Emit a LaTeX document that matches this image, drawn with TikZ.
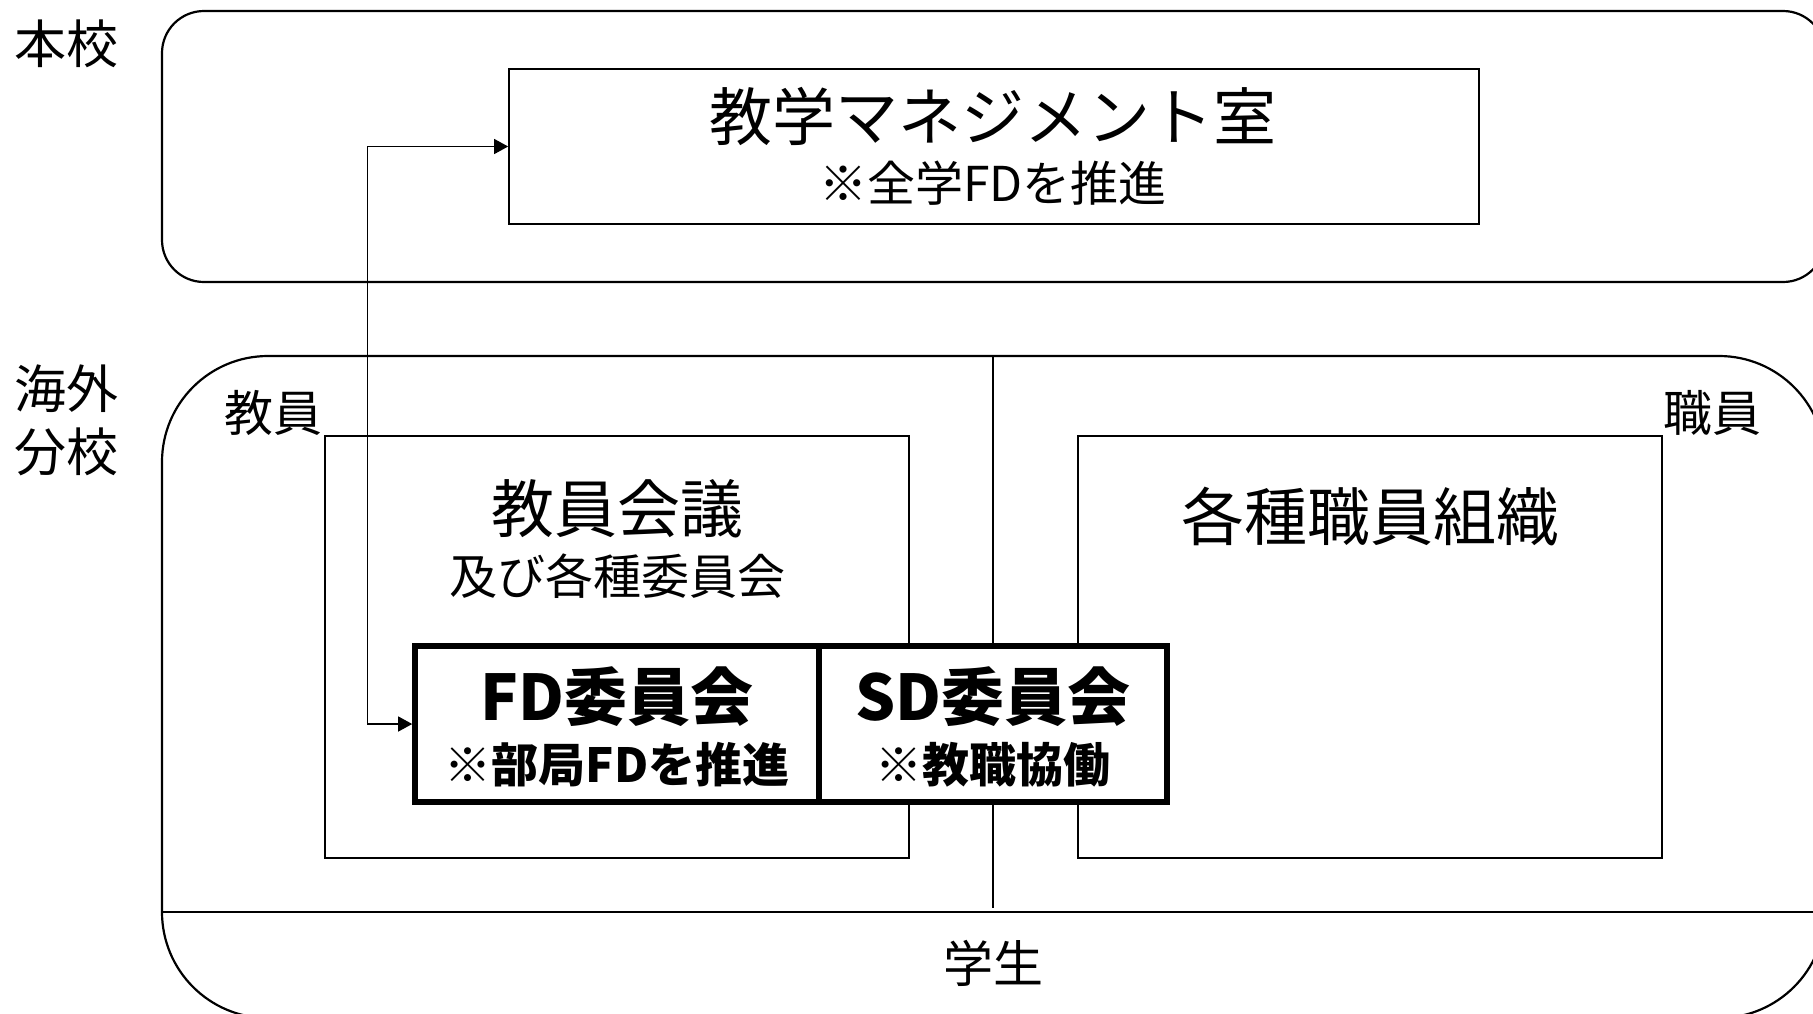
\documentclass[tikz,border=0pt]{standalone}
\usepackage{fontspec}
\setmainfont{Noto Sans CJK JP}
\usetikzlibrary{arrows.meta}
\tikzset{
  outerline/.style={draw=black, line width=1.1pt},
  innerbox/.style={draw=black, line width=0.85pt, fill=white, inner sep=0pt},
  thickbox/.style={draw=black, line width=2.8pt, fill=white, inner sep=0pt},
  conn/.style={draw=black, line width=0.65pt, {Triangle[length=7pt,width=7.5pt]}-{Triangle[length=7pt,width=7.5pt]}},
  txt/.style={inner sep=0pt, anchor=center},
  bigtxt/.style={txt, font=\fontsize{31.5}{36}\selectfont},
  midtxt/.style={txt, font=\fontsize{24}{28}\selectfont},
  lbltxt/.style={txt, font=\fontsize{25}{30}\selectfont},
  boldbig/.style={txt, font=\fontsize{31.5}{36}\selectfont\bfseries},
  boldmid/.style={txt, font=\fontsize{23.5}{28}\selectfont\bfseries},
}
\begin{document}
\begin{tikzpicture}[x=0.5pt,y=-0.5pt]
\useasboundingbox (0,0) rectangle (1813,1013);
\fill[white] (0,0) rectangle (1813,1013);
\clip (0,0) rectangle (1813,1013);

% outer regions
\draw[outerline, rounded corners=21pt] (162,11) rectangle (1825,282);
\draw[outerline, rounded corners=53pt] (162,356) rectangle (1825,1018);
\draw[line width=0.65pt] (993,356) -- (993,908);
\draw[outerline] (162,912) -- (1825,912);

% side labels
\node[lbltxt, font=\fontsize{26}{30}\selectfont] (honko) at (66,44) {本校};
\node[lbltxt, font=\fontsize{26}{30}\selectfont] (kaigai1) at (66,389) {海外};
\node[lbltxt, font=\fontsize{26}{30}\selectfont] (kaigai2) at (66,452) {分校};
\node[lbltxt, font=\fontsize{24.5}{30}\selectfont] (kyoin) at (273,413) {教員};
\node[lbltxt, font=\fontsize{24.5}{30}\selectfont] (shokuin) at (1712,413) {職員};
\node[lbltxt] (gakusei) at (993,963) {学生};

% management room
\node[innerbox, minimum width=485pt, minimum height=77.5pt] (mgmt) at (994,146.5) {};
\node[bigtxt] (mgmtt) at (993,116) {教学マネジメント室};
\node[midtxt] (mgmts) at (993,183) {※全学FDを推進};

% faculty / staff boxes
\node[innerbox, minimum width=292pt, minimum height=211pt] (fac) at (617,647) {};
\node[innerbox, minimum width=292pt, minimum height=211pt] (staff) at (1370,647) {};
\node[bigtxt] (fact) at (617,509) {教員会議};
\node[midtxt] (facs) at (617,576) {及び各種委員会};
\node[bigtxt] (stafft) at (1370,517) {各種職員組織};

% FD / SD committees
\node[thickbox, minimum width=202pt, minimum height=78pt] (fd) at (617,724) {};
\node[thickbox, minimum width=174pt, minimum height=78pt] (sd) at (993,724) {};
\node[boldbig] (fdt) at (617,697) {FD委員会};
\node[boldmid] (fds) at (617,765) {※部局FDを推進};
\node[boldbig] (sdt) at (993,697) {SD委員会};
\node[boldmid] (sds) at (993,765) {※教職協働};

% connector
\draw[conn] (fd.west) -- ++(-45,0) |- (mgmt.west);
\end{tikzpicture}
\end{document}
